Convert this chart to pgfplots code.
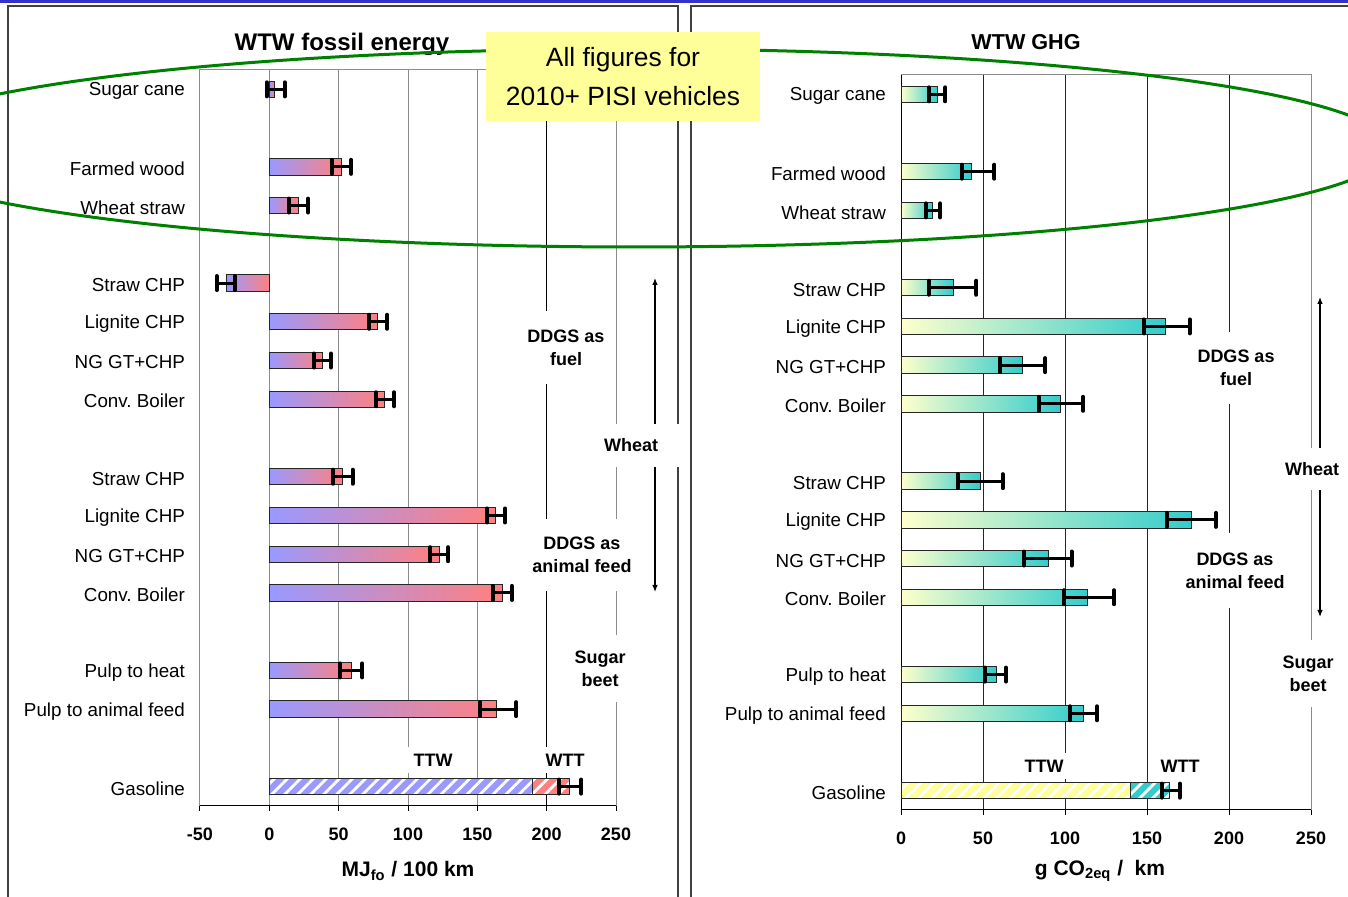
\documentclass[border=0pt]{standalone}
\usepackage{pgfplots}
\pgfplotsset{compat=1.18}
\usepackage{pgfplotstable}
\usepackage{fontspec}
\setmainfont{Liberation Sans}
\usetikzlibrary{patterns.meta, arrows.meta}

\definecolor{lblue}{RGB}{153,153,255}
\definecolor{lred}{RGB}{255,128,128}
\definecolor{gyel}{RGB}{255,255,204}
\definecolor{gturq}{RGB}{51,204,204}
\definecolor{tyel}{RGB}{255,255,153}
\definecolor{framec}{RGB}{64,64,64}
\definecolor{gridgray}{RGB}{140,140,140}
\definecolor{topblue}{RGB}{51,51,204}
\definecolor{ellgreen}{RGB}{0,128,0}
\definecolor{boxyellow}{RGB}{255,255,153}

% fossil energy MJfo/100km: y position, value, error minus, error plus
\pgfplotstableread{
y x em ep
18 4 6 7
16 52 7 7
15 21 7 7
13 -31 7 6
12 78 6 7
11 38 6 6.5
10 83 6 7
8 53 7 7
7 163 6 7
6 123 7 6
5 168 7 7
3 59 8 8
2 164 12 14
}\fossil

% GHG g CO2eq/km
\pgfplotstableread{
y x em ep
18 22 5 5
16 43 6 14
15 19 4 5
13 32 15 14
12 161 13 15
11 74 13.5 14
10 97 13 14
8 48.5 14 13.5
7 177 15 15
6 90 15 14
5 114 14.5 16
3 58 7 6
2 111 8 8.5
}\ghg

\pgfplotsset{
  chartbase/.style={
    scale only axis, anchor=south west, clip=false,
    ymin=-0.5, ymax=18.5,
    ytick={0,2,3,5,6,7,8,10,11,12,13,15,16,18},
    yticklabels={Gasoline, Pulp to animal feed, Pulp to heat, Conv.\ Boiler, NG GT+CHP, Lignite CHP, Straw CHP, Conv.\ Boiler, NG GT+CHP, Lignite CHP, Straw CHP, Wheat straw, Farmed wood, Sugar cane},
    yticklabel style={font=\fontsize{9.4}{11}\selectfont, xshift=-4pt, yshift=-1pt},
    major y tick style={draw=none},
    xtick pos=left,
    xtick align=outside,
    major x tick style={black, line width=0.5pt},
    major tick length=2.5pt,
    xticklabel style={font=\bfseries\fontsize{9}{11}\selectfont, yshift=-5pt},
    xmajorgrids,
    axis line style={gridgray, line width=0.5pt},
  },
  barbase/.style={xbar, bar width=8.2pt, bar shift=0pt, draw=black!85, line width=0.5pt},
  errbase/.style={draw=none, mark=none, forget plot,
    error bars/.cd, x dir=both, x explicit, error mark=|,
    error bar style={draw=black, line width=1.5pt},
    error mark options={draw=black, line width=2pt, mark size=3.5pt, line cap=round}},
  hatch/.style={pattern={Lines[angle=45,distance=4.6pt,line width=1.4pt]}, pattern color=white},
}

\begin{document}
\begin{tikzpicture}[x=1pt,y=1pt]
\path[use as bounding box] (0,0) rectangle (674,448.5);
\fill[topblue] (0,447) rectangle (674,449);
\draw[framec, line width=1pt] (4,-5) rectangle (339,445.5);
\draw[framec, line width=1pt] (345.5,-5) rectangle (680,445.5);

% Left: WTW fossil energy
\begin{axis}[chartbase, at={(100pt,45.5pt)}, width=208pt, height=368pt,
  xmin=-50, xmax=250, xtick={-50,0,50,100,150,200,250},
  xticklabels={-50,0,50,100,150,200,250},
  major x grid style={gridgray, line width=0.5pt}]
\draw[black, line width=0.5pt] (axis cs:200,-0.5) -- (axis cs:200,18.5);
\pgfplotsinvokeforeach{0,...,12}{
  \addplot[barbase, left color=lblue, right color=lred, x filter/.expression={\coordindex==#1 ? x : nan}] table[x=x,y=y] {\fossil};
}
\addplot[barbase, fill=lred] coordinates {(216.5,0)};
\addplot[barbase, hatch] coordinates {(216.5,0)};
\addplot[barbase, fill=lblue] coordinates {(190,0)};
\addplot[barbase, hatch] coordinates {(190,0)};
\addplot[errbase] table[x=x, y=y, x error minus=em, x error plus=ep] {\fossil};
\addplot[errbase] coordinates {(216.5,0) -= (7.5,0) += (8.5,0)};
\draw[black, line width=0.5pt] (axis cs:-50,-0.5) -- (axis cs:250,-0.5);
\end{axis}

% Right: WTW GHG
\begin{axis}[chartbase, at={(450.5pt,43.5pt)}, width=205pt, height=367.5pt,
  xmin=0, xmax=250, xtick={0,50,100,150,200,250},
  xticklabels={0,50,100,150,200,250},
  major x grid style={black!85, line width=0.5pt}]
\draw[black, line width=0.5pt] (axis cs:0,-0.5) -- (axis cs:0,18.5);
\pgfplotsinvokeforeach{0,...,12}{
  \addplot[barbase, left color=gyel, right color=gturq, x filter/.expression={\coordindex==#1 ? x : nan}] table[x=x,y=y] {\ghg};
}
\addplot[barbase, fill=gturq] coordinates {(163.5,0)};
\addplot[barbase, hatch] coordinates {(163.5,0)};
\addplot[barbase, fill=tyel] coordinates {(140,0)};
\addplot[barbase, hatch] coordinates {(140,0)};
\addplot[errbase] table[x=x, y=y, x error minus=em, x error plus=ep] {\ghg};
\addplot[errbase] coordinates {(163.5,0) -= (4.5,0) += (6.5,0)};
\draw[black, line width=0.5pt] (axis cs:0,-0.5) -- (axis cs:250,-0.5);
\end{axis}

% arrows
\draw[black, line width=0.6pt, {Latex[length=3.5pt,width=2.8pt]}-{Latex[length=3.5pt,width=2.8pt]}] (327.5,309.5) -- (327.5,152.5);
\draw[black, line width=0.6pt, {Latex[length=3.5pt,width=2.8pt]}-{Latex[length=3.5pt,width=2.8pt]}] (660,300) -- (660,140);

\tikzset{lab/.style={fill=white, inner sep=0pt, align=center, font=\bfseries\fontsize{9}{11.5}\selectfont}}
% left labels
\node[lab, minimum width=40pt, minimum height=36.5pt] at (283,274.5) {DDGS as\\fuel};
\node[lab, minimum width=52pt, minimum height=21.5pt] at (315.5,225.75) {Wheat};
\node[lab, minimum width=57.5pt, minimum height=36pt] at (291,171) {DDGS as\\animal feed};
\node[lab, minimum width=38pt, minimum height=33.5pt] at (300,114.25) {Sugar\\beet};
\node[lab, minimum width=30pt, minimum height=13pt] at (216.5,68.5) {TTW};
\node[lab, minimum width=25pt, minimum height=13pt] at (282.5,68.5) {WTT};
% right labels
\node[lab, minimum width=43.5pt, minimum height=36pt] at (618,264.5) {DDGS as\\fuel};
\node[lab, minimum width=36pt, minimum height=21pt] at (656,214) {Wheat};
\node[lab, minimum width=55pt, minimum height=37.5pt] at (617.5,163.25) {DDGS as\\animal feed};
\node[lab, minimum width=32.5pt, minimum height=33.5pt] at (654,111.75) {Sugar\\beet};
\node[lab, minimum width=25pt, minimum height=13pt] at (522,65.5) {TTW};
\node[lab, minimum width=25pt, minimum height=13pt] at (590,65.5) {WTT};

% titles and axis labels
\node[font=\bfseries\fontsize{12}{14}\selectfont] at (171,426.5) {WTW fossil energy};
\node[font=\bfseries\fontsize{10.8}{13}\selectfont] at (513,427.5) {WTW GHG};
\node[font=\bfseries\fontsize{10.5}{12}\selectfont] at (204,13) {MJ\textsubscript{fo} / 100 km};
\node[font=\bfseries\fontsize{10.5}{12}\selectfont] at (550,13) {g CO\textsubscript{2eq} /\ \ km};

% green ellipse and yellow box
\draw[ellgreen, line width=1.5pt] (317,374.5) ellipse [x radius=378.5, y radius=49.5];
\node[fill=boxyellow, minimum width=137pt, minimum height=44.5pt, inner sep=0pt, align=center, font=\fontsize{13.2}{19.5}\selectfont] at (311.5,410.25) {All figures for\\2010+ PISI vehicles};
\end{tikzpicture}
\end{document}
